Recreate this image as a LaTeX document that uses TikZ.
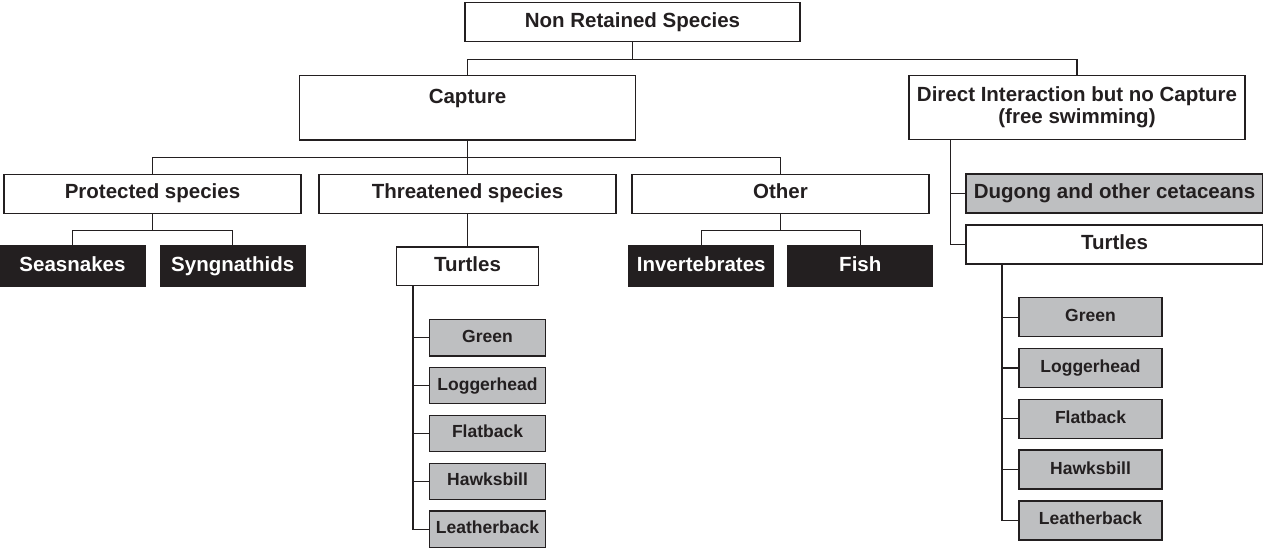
\documentclass[tikz,border=0pt]{standalone}
\usepackage{fontspec}
\setmainfont{Liberation Sans}
\usetikzlibrary{positioning}
\definecolor{inkdark}{RGB}{35,31,32}
\definecolor{boxgrey}{RGB}{190,191,193}

\begin{document}
\begin{tikzpicture}[x=1pt, y=-1pt,
  base/.style={draw=inkdark, line width=1.3pt, text=inkdark, inner sep=0pt, align=center,
    font=\fontsize{20.5}{22}\selectfont\bfseries},
  oneline/.style={base, text height=14.8pt, text depth=4.3pt},
  whitebox/.style={oneline, fill=white, minimum width=297pt, minimum height=39pt},
  tallbox/.style={base, fill=white, minimum width=336pt, minimum height=64.5pt},
  blackbox/.style={oneline, fill=inkdark, text=white, minimum width=145pt, minimum height=40.5pt},
  greybox/.style={oneline, fill=boxgrey, minimum width=297pt, minimum height=39pt},
  speciesL/.style={base, fill=boxgrey, minimum width=116.5pt, minimum height=36.3pt,
    text height=12.6pt, text depth=3.7pt, font=\fontsize{17.5}{20}\selectfont\bfseries},
  speciesR/.style={speciesL, minimum width=143pt, minimum height=39pt},
  link/.style={draw=inkdark, line width=1.3pt}]
  \clip (0,0) rectangle (1263,548);
  \fill[white] (0,0) rectangle (1263,548);

  % top levels
  \node[whitebox, minimum width=335pt, minimum height=38.5pt] (root) at (632.5,22) {Non Retained Species};
  \node[tallbox] (capture) at (467.5,107.7) {Capture\\\phantom{X}};
  \node[tallbox] (direct) at (1077,107.5) {Direct Interaction but no Capture\\(free swimming)};

  % capture groups
  \node[whitebox] (protected) at (152.5,193.7) {Protected species};
  \node[whitebox] (threatened) at (467.5,193.7) {Threatened species};
  \node[whitebox] (other) at (780.5,193.7) {Other};

  \node[blackbox] (seasnakes) at (72.5,266.3) {Seasnakes};
  \node[blackbox] (syngnathids) at (232.7,266.3) {Syngnathids};
  \node[blackbox] (invertebrates) at (701.2,266.3) {Invertebrates};
  \node[blackbox] (fish) at (860.3,266.3) {Fish};
  \node[whitebox, minimum width=142pt, minimum height=38.7pt] (turtlesL) at (467.5,266.3) {Turtles};

  % free swimming
  \node[greybox] (dugong) at (1114.5,193.4) {Dugong and other cetaceans};
  \node[whitebox] (turtlesR) at (1114.5,244.5) {Turtles};

  % turtle species
  \foreach \sp [count=\i from 0] in {Green,Loggerhead,Flatback,Hawksbill,Leatherback} {
    \node[speciesL] (left\sp) at (487.5,337.8+47.85*\i) {\sp};
    \node[speciesR] (right\sp) at (1090.5,317.2+50.8*\i) {\sp};
  }

  % connectors
  \draw[link] (root.south) -- ++(0,17.4) coordinate (rootbus);
  \draw[link] (capture.north) |- (rootbus) -| (direct.north);
  \draw[link] (capture.south) -- ++(0,16.7) coordinate (capbus);
  \draw[link] (protected.north) |- (capbus) -| (other.north);
  \draw[link] (capbus) -- (threatened.north);
  \draw[link] (protected.south) -- ++(0,16.7) coordinate (protbus);
  \draw[link] (seasnakes.north) |- (protbus) -| (syngnathids.north);
  \draw[link] (other.south) -- ++(0,16.7) coordinate (othbus);
  \draw[link] (invertebrates.north) |- (othbus) -| (fish.north);
  \draw[link] (threatened.south) -- (turtlesL.north);
  \foreach \t in {dugong,turtlesR}
    \draw[link] ([xshift=42pt]direct.south west) |- (\t.west);
  \foreach \sp in {Green,Loggerhead,Flatback,Hawksbill,Leatherback} {
    \draw[link] ([xshift=17pt]turtlesL.south west) |- (left\sp.west);
    \draw[link] ([xshift=36.5pt]turtlesR.south west) |- (right\sp.west);
  }
\end{tikzpicture}
\end{document}
